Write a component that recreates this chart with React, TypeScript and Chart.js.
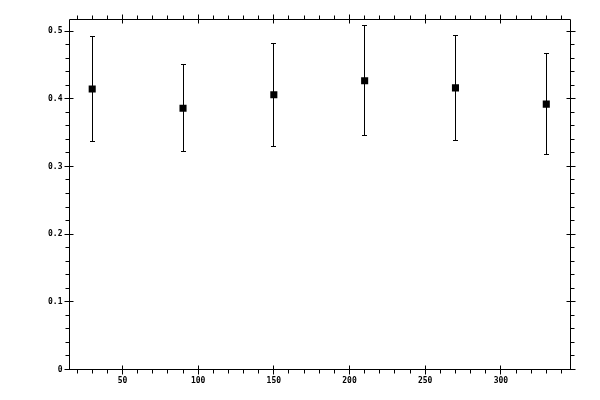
import { useEffect, useRef } from 'react'
import { Chart, registerables } from 'chart.js'

Chart.register(...registerables)

const X_VALUES = [30, 90, 150, 210, 270, 330]
const MEANS = [0.4145, 0.386, 0.406, 0.4265, 0.416, 0.392]
const ERRORS = [0.078, 0.064, 0.076, 0.081, 0.078, 0.075]

const X_TICKS = [50, 100, 150, 200, 250, 300]
const Y_TICKS = [0, 0.1, 0.2, 0.3, 0.4, 0.5]
const Y_TICK_LABELS = ['0', '0.1', '0.2', '0.3', '0.4', '0.5']

const X_MIN = 15
const X_MAX = 346
const Y_MIN = 0
const Y_MAX = 0.5178

const X_MINOR_STEP = 10
const Y_MINOR_STEP = 0.02

const FONT = { family: "'DejaVu Sans Mono', monospace", size: 8, weight: 'bold' as const }

function minorTicks(min: number, max: number, step: number, majorStep: number) {
  const out: number[] = []
  const start = Math.ceil(min / step - 1e-9)
  for (let i = start; i * step <= max + 1e-9; i++) {
    const v = i * step
    const r = v / majorStep
    if (Math.abs(r - Math.round(r)) < 1e-6) continue
    out.push(v)
  }
  return out
}

const snap = (p: number) => Math.floor(p) + 0.5

const errorBars = {
  id: 'errorBars',
  beforeDatasetsDraw(chart: Chart) {
    const { ctx } = chart
    const xs = chart.scales.x
    const ys = chart.scales.y
    ctx.save()
    ctx.strokeStyle = '#000'
    ctx.lineWidth = 1
    ctx.beginPath()
    X_VALUES.forEach((xv, i) => {
      const x = snap(xs.getPixelForValue(xv))
      const top = snap(ys.getPixelForValue(MEANS[i] + ERRORS[i]))
      const bot = snap(ys.getPixelForValue(MEANS[i] - ERRORS[i]))
      ctx.moveTo(x, top)
      ctx.lineTo(x, bot)
      ctx.moveTo(x - 2.5, top)
      ctx.lineTo(x + 2.5, top)
      ctx.moveTo(x - 2.5, bot)
      ctx.lineTo(x + 2.5, bot)
    })
    ctx.stroke()
    ctx.restore()
  },
}

const frame = {
  id: 'frame',
  afterDraw(chart: Chart) {
    const { ctx, chartArea } = chart
    const xs = chart.scales.x
    const ys = chart.scales.y
    const left = snap(chartArea.left)
    const right = snap(chartArea.right)
    const top = snap(chartArea.top)
    const bottom = snap(chartArea.bottom)
    ctx.save()
    ctx.strokeStyle = '#000'
    ctx.lineWidth = 1
    ctx.beginPath()
    ctx.rect(left, top, right - left, bottom - top)

    const MAJ = 4
    const MIN = 3
    X_TICKS.forEach((v) => {
      const x = snap(xs.getPixelForValue(v))
      ctx.moveTo(x, bottom - MAJ)
      ctx.lineTo(x, bottom + MAJ + 1)
      ctx.moveTo(x, top - MAJ - 1)
      ctx.lineTo(x, top + MAJ)
    })
    minorTicks(X_MIN, X_MAX, X_MINOR_STEP, 50).forEach((v) => {
      const x = snap(xs.getPixelForValue(v))
      ctx.moveTo(x, bottom)
      ctx.lineTo(x, bottom + MIN + 1)
      ctx.moveTo(x, top - MIN - 1)
      ctx.lineTo(x, top)
    })
    Y_TICKS.forEach((v) => {
      const y = snap(ys.getPixelForValue(v))
      ctx.moveTo(left - MAJ - 1, y)
      ctx.lineTo(left + MAJ, y)
      ctx.moveTo(right - MAJ, y)
      ctx.lineTo(right + MAJ + 1, y)
    })
    minorTicks(Y_MIN, Y_MAX, Y_MINOR_STEP, 0.1).forEach((v) => {
      const y = snap(ys.getPixelForValue(v))
      ctx.moveTo(left - MIN - 1, y)
      ctx.lineTo(left, y)
      ctx.moveTo(right, y)
      ctx.lineTo(right + MIN + 1, y)
    })
    ctx.stroke()
    ctx.restore()
  },
}

export default function App() {
  const canvasRef = useRef<HTMLCanvasElement>(null)

  useEffect(() => {
    if (!canvasRef.current) return
    const chart = new Chart(canvasRef.current, {
      type: 'scatter',
      data: {
        datasets: [
          {
            data: X_VALUES.map((x, i) => ({ x, y: MEANS[i] })),
            pointStyle: 'rect',
            pointRadius: 5,
            borderWidth: 0,
            backgroundColor: '#000',
            borderColor: '#000',
          },
        ],
      },
      options: {
        animation: false,
        events: [],
        responsive: true,
        maintainAspectRatio: false,
        layout: { padding: { left: 0, top: 19, right: 29.5, bottom: 0 } },
        plugins: {
          legend: { display: false },
          tooltip: { enabled: false },
        },
        scales: {
          x: {
            type: 'linear',
            min: X_MIN,
            max: X_MAX,
            grid: { display: false, drawTicks: false },
            border: { display: false },
            afterBuildTicks: (s: any) => {
              s.ticks = X_TICKS.map((value) => ({ value }))
            },
            afterFit: (s: any) => {
              s.height = 30.5
            },
            ticks: {
              font: FONT,
              color: '#000',
              padding: 7,
              maxRotation: 0,
              autoSkip: false,
              callback: (v: any) => String(v),
            },
          },
          y: {
            type: 'linear',
            min: Y_MIN,
            max: Y_MAX,
            grid: { display: false, drawTicks: false },
            border: { display: false },
            afterBuildTicks: (s: any) => {
              s.ticks = Y_TICKS.map((value) => ({ value }))
            },
            afterFit: (s: any) => {
              s.width = 69.5
            },
            ticks: {
              font: FONT,
              color: '#000',
              padding: 7,
              autoSkip: false,
              callback: (v: any) => Y_TICK_LABELS[Y_TICKS.indexOf(Number(v))] ?? String(v),
            },
          },
        },
      },
      plugins: [errorBars, frame],
    })
    return () => chart.destroy()
  }, [])

  return (
    <div
      style={{
        position: 'fixed',
        left: 0,
        top: 0,
        width: 600,
        height: 400,
        background: '#fff',
      }}
    >
      <canvas ref={canvasRef} />
    </div>
  )
}
